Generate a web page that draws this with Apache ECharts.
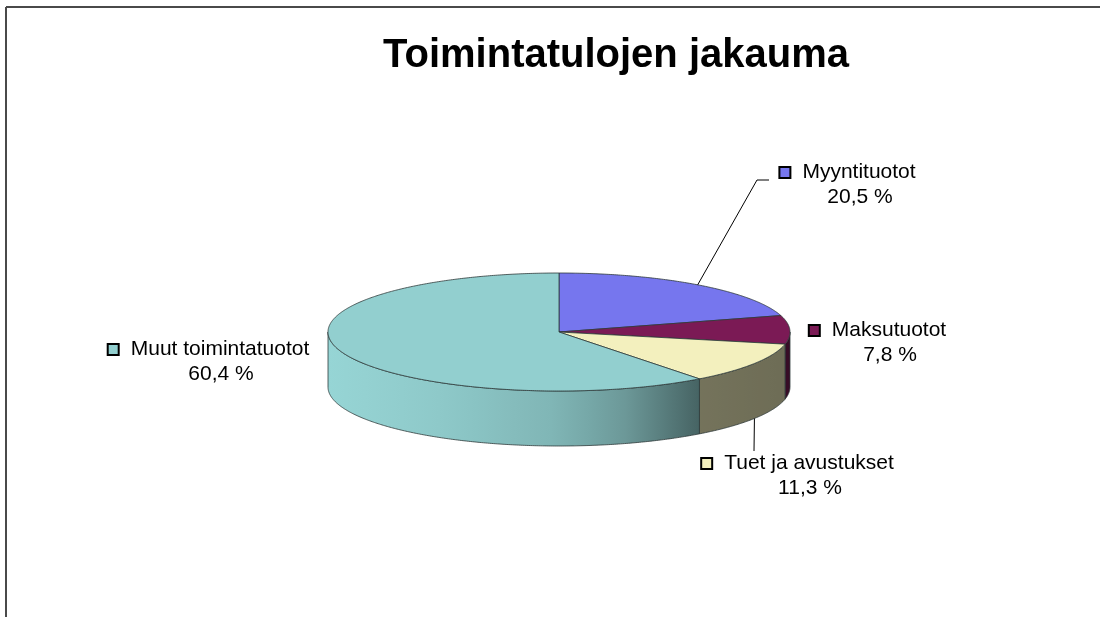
<!DOCTYPE html>
<html style="height: 100%">
<head>
    <meta charset="utf-8">
    <script src="https://cdn.jsdelivr.net/npm/echarts@6.0.0/dist/echarts.min.js"></script>
</head>
<body style="height: 100%; margin: 0; background: #fff">
    <div id="main" style="width: 1100px; height: 617px"></div>
    <script type="text/javascript">
    var chartDom = document.getElementById('main');
    var myChart = echarts.init(chartDom);

    var categories = ['Myyntituotot', 'Maksutuotot', 'Tuet ja avustukset', 'Muut toimintatuotot'];
    var shares = [20.5, 7.8, 11.3, 60.4];
    var shareLabels = ['20,5 %', '7,8 %', '11,3 %', '60,4 %'];
    var colors = ['#7676ee', '#7b1a55', '#f3f0be', '#92cfcf'];

    // 3D pie geometry (ellipse top + side wall)
    var cx = 559, cy = 332, rx = 231, ry = 59, depth = 55;
    // label block centres (text part) and leader line paths
    var labelAt = [[860, 185], [890, 343], [810, 476], [221, 362]];
    var leaderTo = [[[757, 180], [769, 180]], null, [[754, 451]], null];

    var total = shares.reduce(function (a, b) { return a + b; }, 0);
    var starts = [];
    var acc = 0;
    shares.forEach(function (v) { starts.push(acc); acc += v; });

    function pt(deg, dy) {
        var r = deg * Math.PI / 180;
        return [cx + rx * Math.sin(r), cy - ry * Math.cos(r) + dy];
    }
    function arc(from, to, dy) {
        var n = Math.max(2, Math.ceil(Math.abs(to - from) * 2));
        var out = [];
        for (var k = 0; k <= n; k++) out.push(pt(from + (to - from) * k / n, dy));
        return out;
    }
    // brightness of the side wall by horizontal position u (-1 left .. 1 right)
    var shadeKnots = [[-1, 1.03], [-0.5, 0.97], [0, 0.87], [0.3, 0.73], [0.6, 0.48], [1, 0.45]];
    function shade(u) {
        for (var k = 1; k < shadeKnots.length; k++) {
            if (u <= shadeKnots[k][0]) {
                var a = shadeKnots[k - 1], b = shadeKnots[k];
                var t = (u - a[0]) / (b[0] - a[0]);
                return a[1] + (b[1] - a[1]) * t;
            }
        }
        return shadeKnots[shadeKnots.length - 1][1];
    }
    function mul(hex, f) {
        var c = [1, 3, 5].map(function (p) {
            return Math.max(0, Math.min(255, Math.round(parseInt(hex.substr(p, 2), 16) * f)));
        });
        return 'rgb(' + c.join(',') + ')';
    }
    function sideFill(color, s0, s1) {
        var xmax = cx + rx * Math.sin(s0 * Math.PI / 180);
        var xmin = cx + rx * Math.sin(s1 * Math.PI / 180);
        var stops = [];
        for (var k = 0; k <= 10; k++) {
            var o = k / 10;
            var u = (xmin + o * (xmax - xmin) - cx) / rx;
            stops.push({ offset: o, color: mul(color, shade(u)) });
        }
        return { type: 'linear', x: 0, y: 0, x2: 1, y2: 0, colorStops: stops };
    }

    function renderItem(params, api) {
        var i = params.dataIndex;
        var v = api.value(0);
        var a0 = starts[i] / total * 360;
        var a1 = (starts[i] + v) / total * 360;
        var children = [];
        var edge = { stroke: '#2f3a3a', lineWidth: 0.8 };

        var s0 = Math.max(a0, 90), s1 = Math.min(a1, 270);
        if (s1 > s0) {
            var wall = arc(s0, s1, 0).concat(arc(s1, s0, depth));
            children.push({
                type: 'polygon',
                shape: { points: wall },
                style: { fill: sideFill(colors[i], s0, s1), stroke: edge.stroke, lineWidth: edge.lineWidth }
            });
        }
        var top = [[cx, cy]].concat(arc(a0, a1, 0));
        children.push({
            type: 'polygon',
            shape: { points: top },
            style: { fill: colors[i], stroke: edge.stroke, lineWidth: edge.lineWidth }
        });

        if (leaderTo[i]) {
            var mid = (a0 + a1) / 2;
            var front = Math.cos(mid * Math.PI / 180) < 0;
            var anchor = pt(mid, front ? depth : 0);
            children.push({
                type: 'polyline',
                shape: { points: [anchor].concat(leaderTo[i]) },
                style: { stroke: '#000', lineWidth: 1, fill: null }
            });
        }

        children.push({
            type: 'text',
            x: labelAt[i][0] - 12,
            y: labelAt[i][1],
            style: {
                text: '{m|}{g|}' + categories[i] + '\n{g2|}' + shareLabels[i],
                align: 'center',
                verticalAlign: 'middle',
                fill: '#000',
                fontFamily: 'Liberation Sans, Arial, sans-serif',
                fontSize: 21,
                lineHeight: 25,
                rich: {
                    m: { width: 9, height: 9, backgroundColor: colors[i], borderColor: '#000', borderWidth: 2 },
                    g: { width: 13 },
                    g2: { width: 24 }
                }
            }
        });
        return { type: 'group', children: children };
    }

    var option = {
        backgroundColor: '#fff',
        animation: false,
        title: {
            text: 'Toimintatulojen jakauma',
            left: 383,
            top: 36,
            padding: 0,
            textStyle: { fontSize: 40, fontWeight: 'bold', color: '#000', fontFamily: 'Liberation Sans, Arial, sans-serif' }
        },
        graphic: [
            { type: 'line', shape: { x1: 6, y1: 7, x2: 1100, y2: 7 }, style: { stroke: '#4a4a4a', lineWidth: 2 } },
            { type: 'line', shape: { x1: 6, y1: 7, x2: 6, y2: 617 }, style: { stroke: '#4a4a4a', lineWidth: 2 } }
        ],
        series: [{
            type: 'custom',
            coordinateSystem: 'none',
            silent: true,
            renderItem: renderItem,
            data: shares
        }]
    };

    myChart.setOption(option);
    </script>
</body>
</html>
